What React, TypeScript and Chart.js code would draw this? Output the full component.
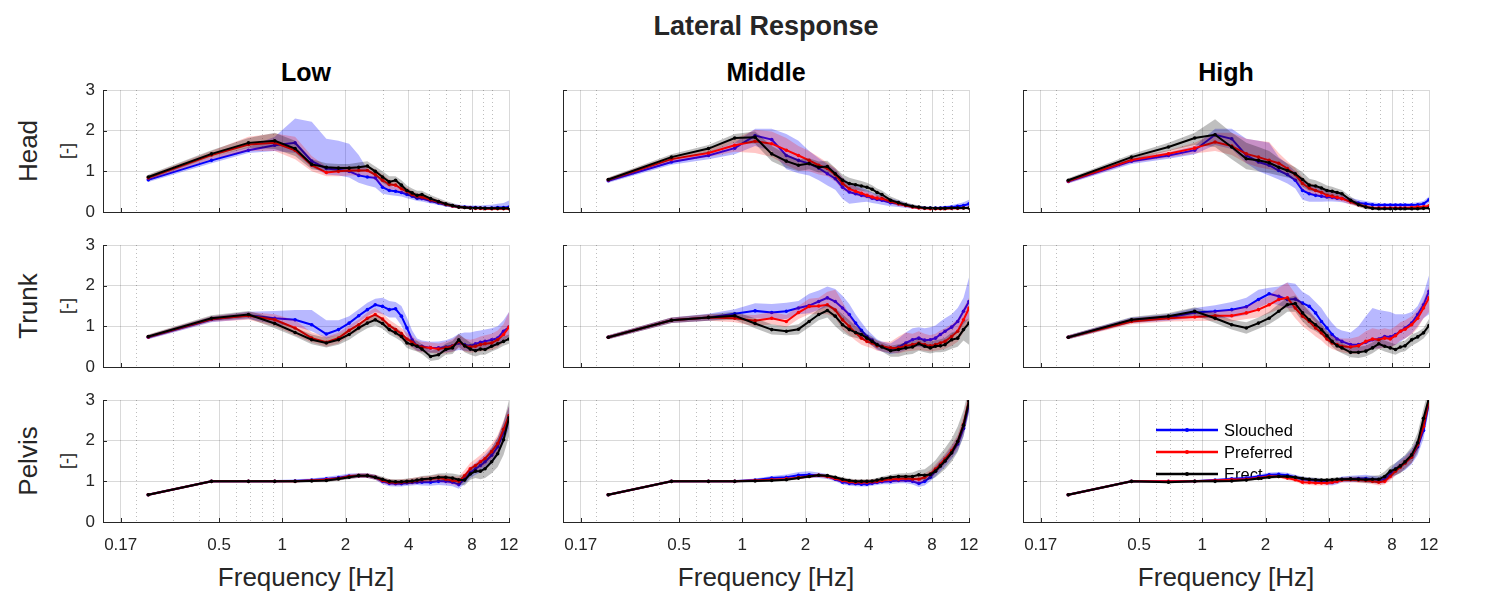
import React, { useEffect, useRef } from 'react';
import { Chart, registerables } from 'chart.js';

Chart.register(...registerables);

// ---------- categories / ticks ----------
const FREQ = [0.23, 0.46, 0.69, 0.92, 1.15, 1.38, 1.62, 1.85, 2.08, 2.31, 2.54, 2.77, 3.0, 3.23, 3.46, 3.69, 3.92, 4.15, 4.38, 4.62, 5.08, 5.54, 6.0, 6.46, 6.92, 7.38, 7.85, 8.31, 8.77, 9.23, 9.92, 10.6, 11.3, 12.0];
const X_TICKS = [0.17, 0.5, 1, 2, 4, 8, 12];
const X_MINOR = [0.2, 0.3, 0.4, 0.6, 0.7, 0.8, 0.9, 3, 5, 6, 7, 9, 10];
const Y_TICKS = [0, 1, 2, 3];
const ROWS = ['Head', 'Trunk', 'Pelvis'];
const COLS = ['Low', 'Middle', 'High'];
const SERIES = ['Slouched', 'Preferred', 'Erect'];

// ---------- HEAD ----------
const HEAD_LOW_SL = [0.79, 1.27, 1.52, 1.64, 1.70, 1.25, 1.07, 1.04, 1.00, 0.90, 0.86, 0.84, 0.61, 0.53, 0.51, 0.48, 0.43, 0.39, 0.34, 0.33, 0.27, 0.22, 0.18, 0.15, 0.13, 0.12, 0.11, 0.11, 0.10, 0.10, 0.10, 0.11, 0.11, 0.12];
const HEAD_LOW_SL_HI = [0.85, 1.35, 1.60, 1.85, 2.30, 2.22, 1.80, 1.75, 1.68, 1.40, 1.05, 0.95, 0.80, 0.65, 0.62, 0.58, 0.52, 0.47, 0.42, 0.40, 0.33, 0.28, 0.23, 0.20, 0.18, 0.17, 0.16, 0.16, 0.16, 0.17, 0.18, 0.20, 0.22, 0.28];
const HEAD_LOW_SL_LO = [0.74, 1.20, 1.45, 1.50, 1.45, 1.10, 0.92, 0.90, 0.85, 0.72, 0.65, 0.60, 0.45, 0.42, 0.40, 0.38, 0.34, 0.31, 0.27, 0.26, 0.21, 0.17, 0.13, 0.11, 0.09, 0.08, 0.07, 0.07, 0.06, 0.06, 0.06, 0.06, 0.06, 0.05];
const HEAD_LOW_PR = [0.84, 1.40, 1.66, 1.70, 1.52, 1.15, 0.97, 1.00, 1.02, 1.02, 1.02, 0.92, 0.78, 0.68, 0.66, 0.57, 0.51, 0.43, 0.39, 0.37, 0.30, 0.25, 0.19, 0.15, 0.12, 0.11, 0.10, 0.09, 0.09, 0.08, 0.08, 0.08, 0.08, 0.08];
const HEAD_LOW_PR_HI = [0.90, 1.50, 1.85, 1.93, 1.85, 1.38, 1.12, 1.12, 1.12, 1.12, 1.12, 1.05, 0.92, 0.80, 0.76, 0.67, 0.60, 0.52, 0.47, 0.44, 0.36, 0.30, 0.24, 0.19, 0.16, 0.14, 0.13, 0.12, 0.12, 0.11, 0.11, 0.11, 0.11, 0.12];
const HEAD_LOW_PR_LO = [0.78, 1.30, 1.50, 1.50, 1.30, 1.00, 0.88, 0.88, 0.90, 0.90, 0.90, 0.78, 0.64, 0.56, 0.55, 0.48, 0.43, 0.36, 0.32, 0.30, 0.24, 0.20, 0.14, 0.11, 0.09, 0.08, 0.07, 0.06, 0.06, 0.05, 0.05, 0.05, 0.05, 0.05];
const HEAD_LOW_ER = [0.86, 1.43, 1.70, 1.75, 1.56, 1.17, 1.10, 1.08, 1.08, 1.10, 1.13, 1.00, 0.86, 0.74, 0.78, 0.66, 0.53, 0.47, 0.41, 0.43, 0.33, 0.26, 0.20, 0.16, 0.12, 0.11, 0.10, 0.10, 0.10, 0.09, 0.09, 0.09, 0.09, 0.09];
const HEAD_LOW_ER_HI = [0.92, 1.52, 1.82, 1.95, 1.75, 1.30, 1.20, 1.18, 1.18, 1.22, 1.25, 1.12, 1.00, 0.88, 0.88, 0.78, 0.65, 0.58, 0.52, 0.52, 0.42, 0.34, 0.27, 0.22, 0.17, 0.15, 0.14, 0.13, 0.13, 0.12, 0.12, 0.12, 0.12, 0.12];
const HEAD_LOW_ER_LO = [0.80, 1.35, 1.58, 1.55, 1.38, 1.05, 1.00, 0.98, 0.98, 0.98, 1.00, 0.88, 0.72, 0.62, 0.66, 0.55, 0.42, 0.37, 0.31, 0.33, 0.25, 0.19, 0.14, 0.11, 0.08, 0.07, 0.07, 0.07, 0.07, 0.06, 0.06, 0.06, 0.06, 0.06];

const HEAD_MID_SL = [0.77, 1.23, 1.39, 1.57, 1.88, 1.78, 1.39, 1.27, 1.19, 1.08, 0.94, 0.82, 0.61, 0.49, 0.45, 0.41, 0.39, 0.34, 0.31, 0.29, 0.23, 0.20, 0.16, 0.13, 0.11, 0.10, 0.10, 0.10, 0.10, 0.11, 0.12, 0.14, 0.16, 0.20];
const HEAD_MID_SL_HI = [0.82, 1.30, 1.48, 1.70, 2.05, 2.05, 1.92, 1.75, 1.50, 1.32, 1.18, 1.05, 0.85, 0.72, 0.65, 0.60, 0.55, 0.48, 0.44, 0.41, 0.33, 0.28, 0.22, 0.18, 0.15, 0.14, 0.13, 0.13, 0.14, 0.15, 0.17, 0.20, 0.24, 0.30];
const HEAD_MID_SL_LO = [0.72, 1.16, 1.30, 1.42, 1.62, 1.50, 1.05, 0.95, 0.90, 0.78, 0.65, 0.55, 0.32, 0.20, 0.22, 0.24, 0.25, 0.22, 0.20, 0.18, 0.14, 0.12, 0.10, 0.08, 0.07, 0.06, 0.06, 0.06, 0.06, 0.07, 0.07, 0.08, 0.10, 0.12];
const HEAD_MID_PR = [0.79, 1.30, 1.45, 1.64, 1.74, 1.68, 1.52, 1.39, 1.27, 1.15, 1.07, 0.92, 0.70, 0.57, 0.51, 0.46, 0.41, 0.37, 0.34, 0.33, 0.26, 0.20, 0.16, 0.12, 0.10, 0.09, 0.08, 0.08, 0.08, 0.08, 0.09, 0.09, 0.10, 0.10];
const HEAD_MID_PR_HI = [0.84, 1.38, 1.55, 1.80, 2.02, 1.98, 1.82, 1.62, 1.50, 1.35, 1.22, 1.08, 0.85, 0.68, 0.62, 0.56, 0.50, 0.45, 0.41, 0.40, 0.32, 0.25, 0.20, 0.16, 0.13, 0.12, 0.11, 0.11, 0.11, 0.11, 0.12, 0.12, 0.13, 0.13];
const HEAD_MID_PR_LO = [0.74, 1.22, 1.35, 1.48, 1.45, 1.35, 1.15, 1.02, 1.00, 0.92, 0.88, 0.75, 0.55, 0.46, 0.41, 0.37, 0.33, 0.30, 0.27, 0.26, 0.20, 0.15, 0.12, 0.09, 0.07, 0.06, 0.06, 0.06, 0.06, 0.06, 0.06, 0.06, 0.07, 0.07];
const HEAD_MID_ER = [0.80, 1.35, 1.56, 1.82, 1.84, 1.43, 1.25, 1.15, 1.19, 1.10, 1.12, 0.94, 0.78, 0.70, 0.67, 0.64, 0.61, 0.56, 0.48, 0.43, 0.29, 0.23, 0.18, 0.14, 0.12, 0.10, 0.10, 0.09, 0.09, 0.09, 0.10, 0.10, 0.10, 0.10];
const HEAD_MID_ER_HI = [0.85, 1.42, 1.65, 1.92, 1.98, 1.62, 1.42, 1.30, 1.32, 1.24, 1.26, 1.08, 0.92, 0.84, 0.80, 0.76, 0.72, 0.66, 0.58, 0.53, 0.38, 0.30, 0.24, 0.19, 0.16, 0.14, 0.13, 0.12, 0.12, 0.12, 0.13, 0.13, 0.13, 0.13];
const HEAD_MID_ER_LO = [0.75, 1.28, 1.47, 1.70, 1.68, 1.25, 1.08, 1.00, 1.05, 0.97, 0.98, 0.80, 0.64, 0.57, 0.55, 0.52, 0.50, 0.46, 0.39, 0.34, 0.22, 0.17, 0.13, 0.10, 0.08, 0.07, 0.07, 0.06, 0.06, 0.06, 0.07, 0.07, 0.07, 0.07];

const HEAD_HIGH_SL = [0.75, 1.25, 1.39, 1.52, 1.90, 1.80, 1.39, 1.23, 1.15, 1.02, 0.92, 0.78, 0.53, 0.45, 0.41, 0.39, 0.37, 0.36, 0.34, 0.33, 0.26, 0.22, 0.20, 0.18, 0.17, 0.17, 0.17, 0.17, 0.17, 0.17, 0.17, 0.18, 0.20, 0.30];
const HEAD_HIGH_SL_HI = [0.80, 1.32, 1.47, 1.62, 2.05, 2.05, 1.80, 1.75, 1.70, 1.35, 1.18, 1.00, 0.78, 0.68, 0.62, 0.56, 0.52, 0.48, 0.45, 0.43, 0.35, 0.30, 0.27, 0.24, 0.22, 0.22, 0.22, 0.22, 0.22, 0.22, 0.22, 0.24, 0.27, 0.38];
const HEAD_HIGH_SL_LO = [0.70, 1.18, 1.31, 1.42, 1.65, 1.55, 1.20, 1.00, 0.90, 0.80, 0.70, 0.58, 0.30, 0.25, 0.25, 0.25, 0.26, 0.26, 0.25, 0.24, 0.19, 0.16, 0.14, 0.13, 0.12, 0.12, 0.12, 0.12, 0.12, 0.12, 0.12, 0.13, 0.14, 0.22];
const HEAD_HIGH_PR = [0.76, 1.28, 1.43, 1.57, 1.72, 1.62, 1.43, 1.35, 1.27, 1.20, 1.07, 0.92, 0.70, 0.59, 0.53, 0.48, 0.41, 0.39, 0.36, 0.33, 0.25, 0.18, 0.13, 0.10, 0.10, 0.10, 0.10, 0.10, 0.10, 0.10, 0.11, 0.12, 0.13, 0.15];
const HEAD_HIGH_PR_HI = [0.81, 1.35, 1.52, 1.70, 1.95, 1.95, 1.80, 1.75, 1.72, 1.45, 1.25, 1.08, 0.85, 0.72, 0.66, 0.60, 0.53, 0.50, 0.46, 0.43, 0.33, 0.24, 0.18, 0.15, 0.14, 0.14, 0.14, 0.14, 0.14, 0.14, 0.15, 0.16, 0.17, 0.20];
const HEAD_HIGH_PR_LO = [0.71, 1.21, 1.34, 1.44, 1.50, 1.40, 1.20, 1.10, 1.05, 1.00, 0.90, 0.76, 0.56, 0.47, 0.42, 0.38, 0.32, 0.30, 0.28, 0.26, 0.18, 0.13, 0.09, 0.07, 0.07, 0.07, 0.07, 0.07, 0.07, 0.07, 0.07, 0.08, 0.09, 0.10];
const HEAD_HIGH_ER = [0.78, 1.35, 1.60, 1.82, 1.90, 1.60, 1.31, 1.27, 1.21, 1.10, 1.02, 0.94, 0.80, 0.66, 0.64, 0.59, 0.53, 0.51, 0.48, 0.45, 0.29, 0.18, 0.12, 0.09, 0.08, 0.08, 0.08, 0.08, 0.08, 0.08, 0.08, 0.08, 0.09, 0.10];
const HEAD_HIGH_ER_HI = [0.83, 1.42, 1.70, 1.95, 2.28, 1.95, 1.70, 1.60, 1.50, 1.32, 1.20, 1.10, 0.98, 0.82, 0.78, 0.72, 0.65, 0.62, 0.58, 0.54, 0.38, 0.25, 0.17, 0.13, 0.11, 0.11, 0.11, 0.11, 0.11, 0.11, 0.11, 0.11, 0.12, 0.13];
const HEAD_HIGH_ER_LO = [0.73, 1.28, 1.50, 1.65, 1.60, 1.30, 1.05, 1.00, 0.95, 0.90, 0.85, 0.80, 0.62, 0.52, 0.50, 0.46, 0.42, 0.40, 0.38, 0.36, 0.21, 0.12, 0.07, 0.05, 0.05, 0.05, 0.05, 0.05, 0.05, 0.05, 0.05, 0.05, 0.05, 0.06];

// ---------- TRUNK ----------
const TRUNK_LOW_SL = [0.73, 1.17, 1.27, 1.20, 1.16, 1.04, 0.81, 0.92, 1.08, 1.26, 1.41, 1.53, 1.49, 1.41, 1.43, 1.25, 0.96, 0.67, 0.52, 0.51, 0.47, 0.47, 0.49, 0.52, 0.59, 0.55, 0.52, 0.57, 0.61, 0.63, 0.67, 0.71, 0.88, 0.98];
const TRUNK_LOW_SL_HI = [0.78, 1.24, 1.36, 1.38, 1.40, 1.40, 1.15, 1.15, 1.25, 1.42, 1.58, 1.68, 1.70, 1.62, 1.60, 1.50, 1.22, 0.90, 0.70, 0.65, 0.62, 0.63, 0.66, 0.72, 0.82, 0.85, 0.85, 0.88, 0.90, 0.92, 0.95, 1.00, 1.15, 1.35];
const TRUNK_LOW_SL_LO = [0.68, 1.10, 1.18, 1.05, 1.00, 0.88, 0.70, 0.80, 0.92, 1.10, 1.25, 1.35, 1.30, 1.22, 1.22, 1.02, 0.72, 0.50, 0.40, 0.38, 0.35, 0.35, 0.36, 0.38, 0.42, 0.40, 0.38, 0.42, 0.45, 0.47, 0.50, 0.52, 0.65, 0.75];
const TRUNK_LOW_PR = [0.74, 1.18, 1.26, 1.16, 0.96, 0.71, 0.61, 0.71, 0.90, 1.04, 1.20, 1.29, 1.18, 1.02, 0.92, 0.82, 0.69, 0.61, 0.52, 0.49, 0.47, 0.44, 0.47, 0.51, 0.63, 0.52, 0.49, 0.51, 0.55, 0.57, 0.59, 0.67, 0.80, 0.98];
const TRUNK_LOW_PR_HI = [0.79, 1.25, 1.35, 1.30, 1.15, 0.85, 0.75, 0.84, 1.02, 1.17, 1.34, 1.45, 1.32, 1.16, 1.06, 0.96, 0.84, 0.76, 0.66, 0.62, 0.60, 0.58, 0.62, 0.68, 0.80, 0.70, 0.67, 0.70, 0.75, 0.78, 0.82, 0.90, 1.05, 1.35];
const TRUNK_LOW_PR_LO = [0.69, 1.11, 1.16, 1.00, 0.78, 0.60, 0.50, 0.58, 0.76, 0.90, 1.06, 1.14, 1.04, 0.88, 0.78, 0.68, 0.55, 0.47, 0.39, 0.36, 0.35, 0.32, 0.34, 0.37, 0.47, 0.38, 0.35, 0.36, 0.38, 0.40, 0.42, 0.48, 0.60, 0.75];
const TRUNK_LOW_ER = [0.75, 1.20, 1.29, 1.07, 0.85, 0.67, 0.59, 0.67, 0.80, 0.96, 1.08, 1.16, 1.07, 0.92, 0.84, 0.75, 0.59, 0.55, 0.51, 0.44, 0.26, 0.30, 0.43, 0.47, 0.67, 0.52, 0.44, 0.40, 0.44, 0.43, 0.51, 0.57, 0.63, 0.69];
const TRUNK_LOW_ER_HI = [0.80, 1.27, 1.38, 1.20, 0.97, 0.80, 0.72, 0.80, 0.93, 1.08, 1.20, 1.30, 1.20, 1.05, 0.97, 0.88, 0.72, 0.68, 0.64, 0.56, 0.40, 0.44, 0.58, 0.64, 0.82, 0.70, 0.60, 0.56, 0.60, 0.60, 0.66, 0.70, 0.75, 0.80];
const TRUNK_LOW_ER_LO = [0.70, 1.13, 1.20, 0.95, 0.75, 0.56, 0.48, 0.55, 0.67, 0.83, 0.95, 1.02, 0.94, 0.80, 0.72, 0.63, 0.47, 0.42, 0.38, 0.32, 0.15, 0.18, 0.30, 0.32, 0.50, 0.36, 0.30, 0.26, 0.30, 0.30, 0.38, 0.44, 0.52, 0.57];

const TRUNK_MID_SL = [0.73, 1.15, 1.22, 1.31, 1.38, 1.34, 1.37, 1.45, 1.51, 1.61, 1.70, 1.61, 1.45, 1.29, 1.08, 0.90, 0.75, 0.66, 0.55, 0.51, 0.44, 0.49, 0.59, 0.67, 0.71, 0.66, 0.67, 0.71, 0.80, 0.88, 0.98, 1.12, 1.37, 1.61];
const TRUNK_MID_SL_HI = [0.78, 1.22, 1.31, 1.42, 1.57, 1.55, 1.58, 1.62, 1.80, 1.88, 1.98, 1.92, 1.75, 1.55, 1.30, 1.10, 0.92, 0.80, 0.68, 0.63, 0.58, 0.70, 0.85, 0.95, 0.98, 0.95, 0.98, 1.02, 1.12, 1.20, 1.30, 1.45, 1.70, 2.20];
const TRUNK_MID_SL_LO = [0.68, 1.08, 1.14, 1.20, 1.20, 1.16, 1.18, 1.30, 1.32, 1.40, 1.48, 1.38, 1.20, 1.05, 0.88, 0.72, 0.60, 0.52, 0.42, 0.38, 0.32, 0.35, 0.42, 0.48, 0.50, 0.47, 0.48, 0.52, 0.60, 0.66, 0.75, 0.85, 1.05, 1.20];
const TRUNK_MID_PR = [0.73, 1.15, 1.22, 1.20, 1.14, 1.20, 1.12, 1.34, 1.49, 1.50, 1.53, 1.40, 1.16, 1.00, 0.84, 0.71, 0.63, 0.59, 0.52, 0.51, 0.47, 0.47, 0.52, 0.55, 0.59, 0.55, 0.52, 0.55, 0.59, 0.63, 0.75, 0.88, 1.16, 1.45];
const TRUNK_MID_PR_HI = [0.78, 1.22, 1.30, 1.30, 1.28, 1.35, 1.28, 1.50, 1.68, 1.70, 1.85, 1.90, 1.60, 1.30, 1.05, 0.88, 0.78, 0.72, 0.65, 0.62, 0.62, 0.75, 0.85, 0.82, 0.88, 0.82, 0.78, 0.82, 0.90, 0.95, 1.05, 1.18, 1.45, 1.70];
const TRUNK_MID_PR_LO = [0.68, 1.08, 1.14, 1.10, 1.00, 1.05, 0.98, 1.18, 1.30, 1.30, 1.30, 1.20, 0.92, 0.78, 0.65, 0.55, 0.50, 0.46, 0.40, 0.38, 0.35, 0.33, 0.38, 0.40, 0.42, 0.40, 0.38, 0.40, 0.42, 0.45, 0.52, 0.62, 0.85, 1.15];
const TRUNK_MID_ER = [0.73, 1.15, 1.22, 1.26, 1.07, 0.92, 0.88, 0.93, 1.12, 1.29, 1.39, 1.25, 1.04, 0.92, 0.85, 0.80, 0.71, 0.63, 0.55, 0.49, 0.40, 0.43, 0.47, 0.49, 0.57, 0.51, 0.47, 0.51, 0.52, 0.55, 0.67, 0.71, 0.92, 1.08];
const TRUNK_MID_ER_HI = [0.78, 1.22, 1.30, 1.36, 1.20, 1.05, 1.00, 1.05, 1.25, 1.42, 1.55, 1.45, 1.30, 1.15, 1.00, 0.92, 0.82, 0.75, 0.66, 0.60, 0.52, 0.56, 0.60, 0.62, 0.70, 0.65, 0.62, 0.66, 0.68, 0.72, 0.85, 0.90, 1.12, 1.20];
const TRUNK_MID_ER_LO = [0.68, 1.08, 1.14, 1.16, 0.95, 0.80, 0.78, 0.80, 0.98, 1.15, 1.22, 1.00, 0.85, 0.75, 0.72, 0.68, 0.60, 0.52, 0.44, 0.38, 0.25, 0.25, 0.30, 0.32, 0.40, 0.36, 0.33, 0.36, 0.36, 0.38, 0.45, 0.50, 0.65, 0.55];

const TRUNK_HIGH_SL = [0.73, 1.15, 1.22, 1.34, 1.37, 1.41, 1.48, 1.66, 1.80, 1.74, 1.66, 1.67, 1.57, 1.49, 1.33, 1.12, 0.96, 0.80, 0.69, 0.63, 0.55, 0.55, 0.61, 0.67, 0.69, 0.75, 0.74, 0.80, 0.88, 0.96, 1.08, 1.29, 1.53, 1.86];
const TRUNK_HIGH_SL_HI = [0.78, 1.22, 1.30, 1.45, 1.52, 1.60, 1.70, 1.90, 1.95, 1.98, 2.08, 2.05, 1.85, 1.75, 1.60, 1.45, 1.25, 1.08, 0.95, 0.90, 0.85, 1.00, 1.25, 1.45, 1.40, 1.38, 1.35, 1.30, 1.30, 1.30, 1.35, 1.50, 1.80, 2.25];
const TRUNK_HIGH_SL_LO = [0.68, 1.08, 1.14, 1.22, 1.20, 1.22, 1.28, 1.45, 1.58, 1.52, 1.45, 1.45, 1.35, 1.28, 1.10, 0.90, 0.75, 0.60, 0.52, 0.48, 0.40, 0.38, 0.42, 0.45, 0.46, 0.50, 0.50, 0.55, 0.62, 0.70, 0.82, 1.00, 1.20, 1.30];
const TRUNK_HIGH_PR = [0.73, 1.12, 1.20, 1.23, 1.26, 1.26, 1.33, 1.41, 1.53, 1.66, 1.70, 1.45, 1.25, 1.12, 0.96, 0.84, 0.69, 0.59, 0.55, 0.51, 0.49, 0.52, 0.63, 0.69, 0.67, 0.71, 0.69, 0.77, 0.88, 0.93, 1.04, 1.20, 1.45, 1.70];
const TRUNK_HIGH_PR_HI = [0.78, 1.20, 1.28, 1.33, 1.38, 1.40, 1.50, 1.62, 1.75, 1.95, 2.08, 1.80, 1.55, 1.40, 1.20, 1.05, 0.88, 0.78, 0.72, 0.70, 0.70, 0.75, 0.88, 0.95, 0.92, 0.95, 0.92, 1.00, 1.10, 1.15, 1.25, 1.40, 1.65, 2.00];
const TRUNK_HIGH_PR_LO = [0.68, 1.05, 1.12, 1.13, 1.14, 1.12, 1.18, 1.22, 1.32, 1.42, 1.45, 1.20, 1.00, 0.88, 0.75, 0.65, 0.52, 0.44, 0.40, 0.36, 0.32, 0.32, 0.40, 0.45, 0.45, 0.48, 0.46, 0.55, 0.65, 0.70, 0.80, 0.95, 1.20, 1.35];
const TRUNK_HIGH_ER = [0.73, 1.16, 1.25, 1.37, 1.20, 1.04, 0.96, 1.08, 1.20, 1.37, 1.53, 1.56, 1.33, 1.16, 1.04, 0.92, 0.77, 0.63, 0.52, 0.47, 0.36, 0.36, 0.39, 0.47, 0.57, 0.51, 0.47, 0.43, 0.49, 0.52, 0.67, 0.74, 0.84, 1.02];
const TRUNK_HIGH_ER_HI = [0.78, 1.23, 1.33, 1.47, 1.32, 1.16, 1.10, 1.22, 1.36, 1.55, 1.70, 1.76, 1.55, 1.36, 1.20, 1.06, 0.90, 0.76, 0.65, 0.60, 0.48, 0.50, 0.52, 0.60, 0.70, 0.65, 0.60, 0.56, 0.62, 0.65, 0.80, 0.86, 0.96, 1.18];
const TRUNK_HIGH_ER_LO = [0.68, 1.09, 1.17, 1.27, 1.08, 0.92, 0.82, 0.94, 1.05, 1.20, 1.36, 1.36, 1.12, 0.96, 0.88, 0.78, 0.64, 0.50, 0.40, 0.34, 0.24, 0.22, 0.26, 0.34, 0.44, 0.38, 0.34, 0.30, 0.36, 0.39, 0.52, 0.60, 0.70, 0.86];

// ---------- PELVIS ----------
const PELVIS_LOW_SL = [0.67, 1.00, 1.00, 1.00, 1.01, 1.03, 1.06, 1.09, 1.13, 1.14, 1.14, 1.10, 1.00, 0.95, 0.94, 0.94, 0.96, 0.97, 0.98, 0.98, 0.98, 1.00, 1.00, 0.98, 0.92, 1.06, 1.22, 1.31, 1.39, 1.48, 1.64, 1.85, 2.20, 2.56];
const PELVIS_LOW_SL_HI = [0.70, 1.03, 1.03, 1.03, 1.05, 1.07, 1.11, 1.15, 1.19, 1.20, 1.20, 1.16, 1.07, 1.02, 1.01, 1.01, 1.03, 1.04, 1.05, 1.06, 1.07, 1.09, 1.10, 1.08, 1.03, 1.18, 1.36, 1.46, 1.56, 1.66, 1.84, 2.08, 2.45, 2.85];
const PELVIS_LOW_SL_LO = [0.64, 0.97, 0.97, 0.97, 0.97, 0.99, 1.01, 1.03, 1.07, 1.08, 1.08, 1.04, 0.93, 0.88, 0.87, 0.87, 0.89, 0.90, 0.91, 0.90, 0.89, 0.91, 0.90, 0.88, 0.82, 0.94, 1.08, 1.16, 1.22, 1.30, 1.44, 1.62, 1.95, 2.30];
const PELVIS_LOW_PR = [0.67, 1.00, 1.00, 1.00, 1.00, 1.02, 1.04, 1.07, 1.12, 1.14, 1.14, 1.10, 1.02, 0.98, 0.97, 0.98, 0.99, 1.00, 1.02, 1.04, 1.06, 1.08, 1.05, 1.02, 1.00, 1.14, 1.31, 1.39, 1.48, 1.56, 1.73, 1.93, 2.28, 2.62];
const PELVIS_LOW_PR_HI = [0.70, 1.03, 1.03, 1.03, 1.03, 1.05, 1.08, 1.12, 1.17, 1.20, 1.20, 1.16, 1.09, 1.05, 1.04, 1.05, 1.06, 1.08, 1.10, 1.12, 1.14, 1.17, 1.15, 1.12, 1.12, 1.28, 1.46, 1.55, 1.65, 1.74, 1.92, 2.14, 2.50, 2.85];
const PELVIS_LOW_PR_LO = [0.64, 0.97, 0.97, 0.97, 0.97, 0.99, 1.00, 1.02, 1.07, 1.08, 1.08, 1.04, 0.95, 0.91, 0.90, 0.91, 0.92, 0.92, 0.94, 0.96, 0.98, 0.99, 0.95, 0.92, 0.88, 1.00, 1.16, 1.23, 1.31, 1.38, 1.54, 1.72, 2.06, 2.40];
const PELVIS_LOW_ER = [0.67, 1.00, 1.00, 1.00, 1.00, 1.01, 1.02, 1.06, 1.10, 1.14, 1.14, 1.10, 1.05, 1.00, 0.99, 0.99, 1.00, 1.01, 1.03, 1.05, 1.07, 1.10, 1.10, 1.08, 1.04, 1.03, 1.18, 1.25, 1.25, 1.31, 1.48, 1.68, 2.02, 2.56];
const PELVIS_LOW_ER_HI = [0.70, 1.03, 1.03, 1.03, 1.03, 1.04, 1.06, 1.10, 1.15, 1.19, 1.19, 1.16, 1.11, 1.06, 1.05, 1.05, 1.07, 1.08, 1.10, 1.13, 1.15, 1.19, 1.20, 1.19, 1.16, 1.16, 1.32, 1.42, 1.48, 1.60, 1.82, 2.08, 2.45, 3.00];
const PELVIS_LOW_ER_LO = [0.64, 0.97, 0.97, 0.97, 0.97, 0.98, 0.98, 1.02, 1.05, 1.09, 1.09, 1.04, 0.99, 0.94, 0.93, 0.93, 0.93, 0.94, 0.96, 0.97, 0.99, 1.01, 1.00, 0.97, 0.92, 0.90, 1.04, 1.08, 1.05, 1.08, 1.20, 1.35, 1.65, 2.10];

const PELVIS_MID_SL = [0.67, 1.00, 1.00, 1.00, 1.03, 1.08, 1.10, 1.15, 1.16, 1.15, 1.12, 1.05, 0.98, 0.95, 0.94, 0.93, 0.93, 0.95, 0.97, 0.99, 1.00, 1.02, 1.02, 1.00, 0.95, 1.00, 1.10, 1.25, 1.38, 1.50, 1.70, 1.92, 2.30, 2.90];
const PELVIS_MID_SL_HI = [0.70, 1.03, 1.03, 1.03, 1.07, 1.13, 1.17, 1.23, 1.25, 1.22, 1.18, 1.10, 1.04, 1.01, 1.00, 0.99, 0.99, 1.01, 1.03, 1.05, 1.07, 1.09, 1.10, 1.08, 1.04, 1.10, 1.22, 1.38, 1.52, 1.65, 1.86, 2.10, 2.50, 3.10];
const PELVIS_MID_SL_LO = [0.64, 0.97, 0.97, 0.97, 0.99, 1.03, 1.04, 1.07, 1.08, 1.08, 1.06, 1.00, 0.92, 0.89, 0.88, 0.87, 0.87, 0.89, 0.91, 0.93, 0.93, 0.95, 0.95, 0.92, 0.86, 0.90, 1.00, 1.12, 1.24, 1.36, 1.55, 1.75, 2.10, 2.70];
const PELVIS_MID_PR = [0.67, 1.00, 1.00, 1.00, 1.02, 1.04, 1.06, 1.09, 1.12, 1.15, 1.12, 1.07, 1.02, 0.99, 0.98, 0.98, 0.98, 0.99, 1.00, 1.02, 1.05, 1.06, 1.07, 1.06, 1.05, 1.10, 1.18, 1.30, 1.42, 1.55, 1.75, 1.98, 2.40, 3.00];
const PELVIS_MID_PR_HI = [0.70, 1.03, 1.03, 1.03, 1.05, 1.07, 1.09, 1.13, 1.16, 1.19, 1.17, 1.12, 1.08, 1.05, 1.04, 1.04, 1.04, 1.05, 1.06, 1.08, 1.12, 1.14, 1.15, 1.15, 1.16, 1.20, 1.28, 1.42, 1.55, 1.68, 1.90, 2.15, 2.60, 3.20];
const PELVIS_MID_PR_LO = [0.64, 0.97, 0.97, 0.97, 0.99, 1.01, 1.03, 1.05, 1.08, 1.10, 1.07, 1.02, 0.96, 0.93, 0.92, 0.92, 0.92, 0.93, 0.94, 0.96, 0.98, 0.98, 0.99, 0.97, 0.94, 1.00, 1.08, 1.18, 1.30, 1.42, 1.60, 1.82, 2.20, 2.80];
const PELVIS_MID_ER = [0.67, 1.00, 1.00, 1.00, 1.01, 1.02, 1.04, 1.08, 1.12, 1.15, 1.14, 1.10, 1.05, 1.02, 1.00, 1.00, 1.00, 1.01, 1.03, 1.06, 1.10, 1.12, 1.12, 1.12, 1.16, 1.15, 1.17, 1.25, 1.38, 1.50, 1.70, 1.98, 2.38, 2.97];
const PELVIS_MID_ER_HI = [0.70, 1.03, 1.03, 1.03, 1.04, 1.05, 1.07, 1.11, 1.15, 1.18, 1.18, 1.14, 1.10, 1.07, 1.05, 1.05, 1.05, 1.06, 1.08, 1.12, 1.16, 1.19, 1.20, 1.22, 1.28, 1.30, 1.40, 1.52, 1.68, 1.82, 2.05, 2.35, 2.75, 3.30];
const PELVIS_MID_ER_LO = [0.64, 0.97, 0.97, 0.97, 0.98, 0.99, 1.01, 1.05, 1.09, 1.12, 1.10, 1.06, 1.00, 0.97, 0.95, 0.95, 0.95, 0.96, 0.98, 1.00, 1.04, 1.05, 1.04, 1.02, 1.04, 1.02, 1.04, 1.10, 1.20, 1.30, 1.48, 1.72, 2.10, 2.70];

const PELVIS_HIGH_SL = [0.67, 1.00, 1.00, 1.00, 1.03, 1.06, 1.08, 1.12, 1.16, 1.17, 1.15, 1.10, 1.05, 1.03, 1.02, 1.00, 0.98, 0.97, 1.00, 1.05, 1.06, 1.07, 1.07, 1.05, 1.03, 1.05, 1.18, 1.30, 1.38, 1.45, 1.60, 1.85, 2.25, 2.95];
const PELVIS_HIGH_SL_HI = [0.70, 1.03, 1.03, 1.03, 1.06, 1.10, 1.12, 1.17, 1.22, 1.23, 1.21, 1.16, 1.11, 1.09, 1.08, 1.06, 1.05, 1.04, 1.07, 1.12, 1.14, 1.15, 1.16, 1.14, 1.12, 1.15, 1.30, 1.45, 1.55, 1.62, 1.80, 2.05, 2.45, 3.10];
const PELVIS_HIGH_SL_LO = [0.64, 0.97, 0.97, 0.97, 1.00, 1.02, 1.04, 1.07, 1.10, 1.11, 1.09, 1.04, 0.99, 0.97, 0.96, 0.94, 0.91, 0.90, 0.93, 0.98, 0.98, 0.99, 0.98, 0.96, 0.94, 0.95, 1.06, 1.15, 1.22, 1.28, 1.42, 1.65, 2.05, 2.75];
const PELVIS_HIGH_PR = [0.67, 1.00, 1.00, 1.00, 1.02, 1.04, 1.05, 1.08, 1.12, 1.12, 1.08, 1.04, 0.98, 0.97, 0.96, 0.96, 0.96, 0.98, 1.00, 1.03, 1.04, 1.03, 1.02, 1.00, 0.98, 1.00, 1.12, 1.25, 1.35, 1.45, 1.60, 1.90, 2.35, 3.00];
const PELVIS_HIGH_PR_HI = [0.70, 1.03, 1.03, 1.03, 1.05, 1.07, 1.08, 1.12, 1.16, 1.16, 1.13, 1.09, 1.04, 1.03, 1.02, 1.02, 1.02, 1.04, 1.06, 1.09, 1.10, 1.10, 1.09, 1.07, 1.06, 1.08, 1.22, 1.36, 1.48, 1.58, 1.75, 2.05, 2.50, 3.15];
const PELVIS_HIGH_PR_LO = [0.64, 0.97, 0.97, 0.97, 0.99, 1.01, 1.02, 1.04, 1.08, 1.08, 1.03, 0.99, 0.92, 0.91, 0.90, 0.90, 0.90, 0.92, 0.94, 0.97, 0.98, 0.96, 0.95, 0.93, 0.90, 0.92, 1.02, 1.14, 1.22, 1.32, 1.45, 1.75, 2.20, 2.85];
const PELVIS_HIGH_ER = [0.67, 1.00, 0.98, 1.00, 1.00, 1.01, 1.03, 1.07, 1.10, 1.12, 1.12, 1.10, 1.07, 1.05, 1.04, 1.03, 1.03, 1.04, 1.05, 1.05, 1.06, 1.05, 1.04, 1.05, 1.05, 1.12, 1.25, 1.30, 1.38, 1.48, 1.65, 1.95, 2.55, 3.05];
const PELVIS_HIGH_ER_HI = [0.70, 1.03, 1.01, 1.03, 1.03, 1.04, 1.06, 1.10, 1.14, 1.16, 1.16, 1.14, 1.12, 1.10, 1.09, 1.08, 1.08, 1.09, 1.10, 1.10, 1.12, 1.12, 1.12, 1.14, 1.15, 1.24, 1.38, 1.45, 1.55, 1.65, 1.85, 2.20, 2.80, 3.30];
const PELVIS_HIGH_ER_LO = [0.64, 0.97, 0.95, 0.97, 0.97, 0.98, 1.00, 1.04, 1.06, 1.08, 1.08, 1.06, 1.02, 1.00, 0.99, 0.98, 0.98, 0.99, 1.00, 1.00, 1.00, 0.98, 0.96, 0.96, 0.95, 1.00, 1.12, 1.15, 1.20, 1.30, 1.45, 1.70, 2.30, 2.80];

// ---------- table built from the arrays ----------
type Band = { mean: number[]; lo: number[]; hi: number[] };
const b = (mean: number[], lo: number[], hi: number[]): Band => ({ mean, lo, hi });
const PANELS: Band[][][] = [
  [
    [b(HEAD_LOW_SL, HEAD_LOW_SL_LO, HEAD_LOW_SL_HI), b(HEAD_LOW_PR, HEAD_LOW_PR_LO, HEAD_LOW_PR_HI), b(HEAD_LOW_ER, HEAD_LOW_ER_LO, HEAD_LOW_ER_HI)],
    [b(HEAD_MID_SL, HEAD_MID_SL_LO, HEAD_MID_SL_HI), b(HEAD_MID_PR, HEAD_MID_PR_LO, HEAD_MID_PR_HI), b(HEAD_MID_ER, HEAD_MID_ER_LO, HEAD_MID_ER_HI)],
    [b(HEAD_HIGH_SL, HEAD_HIGH_SL_LO, HEAD_HIGH_SL_HI), b(HEAD_HIGH_PR, HEAD_HIGH_PR_LO, HEAD_HIGH_PR_HI), b(HEAD_HIGH_ER, HEAD_HIGH_ER_LO, HEAD_HIGH_ER_HI)],
  ],
  [
    [b(TRUNK_LOW_SL, TRUNK_LOW_SL_LO, TRUNK_LOW_SL_HI), b(TRUNK_LOW_PR, TRUNK_LOW_PR_LO, TRUNK_LOW_PR_HI), b(TRUNK_LOW_ER, TRUNK_LOW_ER_LO, TRUNK_LOW_ER_HI)],
    [b(TRUNK_MID_SL, TRUNK_MID_SL_LO, TRUNK_MID_SL_HI), b(TRUNK_MID_PR, TRUNK_MID_PR_LO, TRUNK_MID_PR_HI), b(TRUNK_MID_ER, TRUNK_MID_ER_LO, TRUNK_MID_ER_HI)],
    [b(TRUNK_HIGH_SL, TRUNK_HIGH_SL_LO, TRUNK_HIGH_SL_HI), b(TRUNK_HIGH_PR, TRUNK_HIGH_PR_LO, TRUNK_HIGH_PR_HI), b(TRUNK_HIGH_ER, TRUNK_HIGH_ER_LO, TRUNK_HIGH_ER_HI)],
  ],
  [
    [b(PELVIS_LOW_SL, PELVIS_LOW_SL_LO, PELVIS_LOW_SL_HI), b(PELVIS_LOW_PR, PELVIS_LOW_PR_LO, PELVIS_LOW_PR_HI), b(PELVIS_LOW_ER, PELVIS_LOW_ER_LO, PELVIS_LOW_ER_HI)],
    [b(PELVIS_MID_SL, PELVIS_MID_SL_LO, PELVIS_MID_SL_HI), b(PELVIS_MID_PR, PELVIS_MID_PR_LO, PELVIS_MID_PR_HI), b(PELVIS_MID_ER, PELVIS_MID_ER_LO, PELVIS_MID_ER_HI)],
    [b(PELVIS_HIGH_SL, PELVIS_HIGH_SL_LO, PELVIS_HIGH_SL_HI), b(PELVIS_HIGH_PR, PELVIS_HIGH_PR_LO, PELVIS_HIGH_PR_HI), b(PELVIS_HIGH_ER, PELVIS_HIGH_ER_LO, PELVIS_HIGH_ER_HI)],
  ],
];

// ---------- styles / layout ----------
const FONT = "'Liberation Sans', Arial, Helvetica, sans-serif";
const LINE_COLORS = ['#0000ff', '#ff0000', '#000000'];
const BAND_COLORS = ['rgba(0,0,255,0.28)', 'rgba(255,0,0,0.22)', 'rgba(0,0,0,0.25)'];
const AXIS_COLOR = '#262626';
const PLOT_LEFT = [103, 563, 1023];
const PLOT_TOP = [90, 245, 400];
const PW = 406;
const PH = 122;
const ML = 50;
const MR = 16;
const MT = 14;
const MB = 34;
const LEGEND = { x1: 133, x2: 195, tx: 201, rows: [30, 52, 74] };

const minorGridPlugin = {
  id: 'minorGrid',
  beforeDatasetsDraw(chart: any) {
    const { ctx, chartArea: a, scales } = chart;
    const x = scales.x;
    ctx.save();
    ctx.strokeStyle = 'rgba(0,0,0,0.26)';
    ctx.lineWidth = 1;
    ctx.setLineDash([1, 3]);
    X_MINOR.forEach((v) => {
      const px = Math.round(x.getPixelForValue(v)) + 0.5;
      ctx.beginPath();
      ctx.moveTo(px, a.top);
      ctx.lineTo(px, a.bottom);
      ctx.stroke();
    });
    ctx.restore();
  },
};

const inwardTicksPlugin = {
  id: 'inwardTicks',
  afterDraw(chart: any) {
    const { ctx, chartArea: a, scales } = chart;
    ctx.save();
    ctx.strokeStyle = AXIS_COLOR;
    ctx.lineWidth = 1;
    Y_TICKS.forEach((v) => {
      const py = Math.round(scales.y.getPixelForValue(v)) + 0.5;
      ctx.beginPath();
      ctx.moveTo(a.left, py);
      ctx.lineTo(a.left + 4, py);
      ctx.stroke();
    });
    X_TICKS.forEach((v) => {
      const px = Math.round(scales.x.getPixelForValue(v)) + 0.5;
      ctx.beginPath();
      ctx.moveTo(px, a.bottom);
      ctx.lineTo(px, a.bottom - 4);
      ctx.stroke();
    });
    ctx.restore();
  },
};

const legendPlugin = {
  id: 'panelLegend',
  beforeDatasetsDraw(chart: any) {
    const { ctx, chartArea: a } = chart;
    ctx.save();
    SERIES.forEach((name, i) => {
      const y = a.top + LEGEND.rows[i];
      ctx.strokeStyle = LINE_COLORS[i];
      ctx.lineWidth = 2.5;
      ctx.beginPath();
      ctx.moveTo(a.left + LEGEND.x1, y);
      ctx.lineTo(a.left + LEGEND.x2, y);
      ctx.stroke();
      ctx.fillStyle = LINE_COLORS[i];
      ctx.beginPath();
      ctx.arc(a.left + (LEGEND.x1 + LEGEND.x2) / 2, y, 2, 0, Math.PI * 2);
      ctx.fill();
      ctx.fillStyle = '#000';
      ctx.font = `16.5px ${FONT}`;
      ctx.textAlign = 'left';
      ctx.textBaseline = 'middle';
      ctx.fillText(name, a.left + LEGEND.tx, y + 1);
    });
    ctx.restore();
  },
};

function Panel({ row, col }: { row: number; col: number }) {
  const ref = useRef<HTMLCanvasElement>(null);
  useEffect(() => {
    const canvas = ref.current;
    if (!canvas) return;
    const datasets: any[] = [];
    PANELS[row][col].forEach((s, i) => {
      const pts = (arr: number[]) => arr.map((y, k) => ({ x: FREQ[k], y }));
      datasets.push({ label: SERIES[i] + ' lower', data: pts(s.lo), borderWidth: 1, borderColor: 'rgba(0,0,0,0)', pointRadius: 0, fill: false });
      datasets.push({ label: SERIES[i] + ' upper', data: pts(s.hi), borderWidth: 1, borderColor: 'rgba(0,0,0,0)', backgroundColor: BAND_COLORS[i], pointRadius: 0, fill: '-1' });
      datasets.push({
        label: SERIES[i],
        data: pts(s.mean),
        borderColor: LINE_COLORS[i],
        backgroundColor: LINE_COLORS[i],
        borderWidth: 2,
        pointRadius: 1.8,
        pointBorderWidth: 0,
        pointBackgroundColor: LINE_COLORS[i],
        fill: false,
      });
    });
    datasets.forEach((d, i) => {
      d.order = 100 - i;
    });
    const tickFont = { family: FONT, size: 17 };
    const plugins: any[] = [minorGridPlugin, inwardTicksPlugin];
    if (row === 2 && col === 2) plugins.push(legendPlugin);
    const chart = new Chart(canvas, {
      type: 'line',
      data: { datasets },
      options: {
        animation: false,
        responsive: false,
        maintainAspectRatio: false,
        events: [],
        layout: { padding: { top: MT, right: MR, left: 0, bottom: 0 } },
        plugins: {
          legend: { display: false },
          tooltip: { enabled: false },
          filler: { propagate: false, drawTime: 'beforeDatasetDraw' },
        },
        scales: {
          x: {
            type: 'logarithmic',
            min: 0.14,
            max: 12,
            bounds: 'data',
            afterBuildTicks: (s: any) => {
              s.ticks = X_TICKS.map((v) => ({ value: v }));
            },
            afterFit: (s: any) => {
              s.height = MB;
              s.paddingLeft = 0;
              s.paddingRight = 0;
              s.paddingTop = 0;
              s.paddingBottom = 0;
            },
            ticks: {
              display: row === 2,
              autoSkip: false,
              maxRotation: 0,
              padding: 13,
              color: AXIS_COLOR,
              font: tickFont,
              callback: (v: any) => String(v),
            },
            grid: { color: 'rgba(0,0,0,0.15)', lineWidth: 1, drawTicks: false },
            border: { display: true, color: AXIS_COLOR, width: 1 },
          },
          y: {
            type: 'linear',
            min: 0,
            max: 3,
            afterBuildTicks: (s: any) => {
              s.ticks = Y_TICKS.map((v) => ({ value: v }));
            },
            afterFit: (s: any) => {
              s.width = ML;
              s.paddingTop = 0;
              s.paddingBottom = 0;
              s.paddingLeft = 0;
              s.paddingRight = 0;
            },
            ticks: {
              display: col === 0,
              padding: 8,
              color: AXIS_COLOR,
              font: tickFont,
              callback: (v: any) => String(v),
            },
            grid: { color: 'rgba(0,0,0,0.15)', lineWidth: 1, drawTicks: false },
            border: { display: true, color: AXIS_COLOR, width: 1 },
          },
        },
      } as any,
      plugins,
    });
    return () => chart.destroy();
  }, [row, col]);
  const w = PW + ML + MR;
  const h = PH + MT + MB;
  return (
    <canvas
      ref={ref}
      width={w}
      height={h}
      style={{ position: 'absolute', left: PLOT_LEFT[col] - ML, top: PLOT_TOP[row] - MT, width: w, height: h }}
    />
  );
}

export default function App() {
  const text = (extra: React.CSSProperties): React.CSSProperties => ({
    position: 'absolute',
    whiteSpace: 'nowrap',
    fontFamily: FONT,
    ...extra,
  });
  return (
    <div style={{ position: 'absolute', left: 0, top: 0, width: 1500, height: 600, background: '#fff', overflow: 'hidden' }}>
      <div style={text({ left: 766, top: 13, transform: 'translateX(-50%)', fontSize: 27, lineHeight: '27px', fontWeight: 'bold', color: '#262626' })}>
        Lateral Response
      </div>
      {COLS.map((c, j) => (
        <div key={c} style={text({ left: PLOT_LEFT[j] + PW / 2, top: 60, transform: 'translateX(-50%)', fontSize: 25, lineHeight: '25px', fontWeight: 'bold', color: '#000' })}>
          {c}
        </div>
      ))}
      {ROWS.map((r, i) => (
        <React.Fragment key={r}>
          <div style={text({ left: 28, top: PLOT_TOP[i] + PH / 2, transform: 'translate(-50%,-50%) rotate(-90deg)', fontSize: 26, lineHeight: '26px', color: '#262626' })}>
            {r}
          </div>
          <div style={text({ left: 67, top: PLOT_TOP[i] + PH / 2, transform: 'translate(-50%,-50%) rotate(-90deg)', fontSize: 18, lineHeight: '18px', color: '#262626' })}>
            [-]
          </div>
        </React.Fragment>
      ))}
      {COLS.map((c, j) => (
        <div key={'xl' + c} style={text({ left: PLOT_LEFT[j] + PW / 2, top: 564, transform: 'translateX(-50%)', fontSize: 26, lineHeight: '26px', color: '#262626' })}>
          Frequency [Hz]
        </div>
      ))}
      {ROWS.map((_, i) => COLS.map((__, j) => <Panel key={`${i}-${j}`} row={i} col={j} />))}
    </div>
  );
}
